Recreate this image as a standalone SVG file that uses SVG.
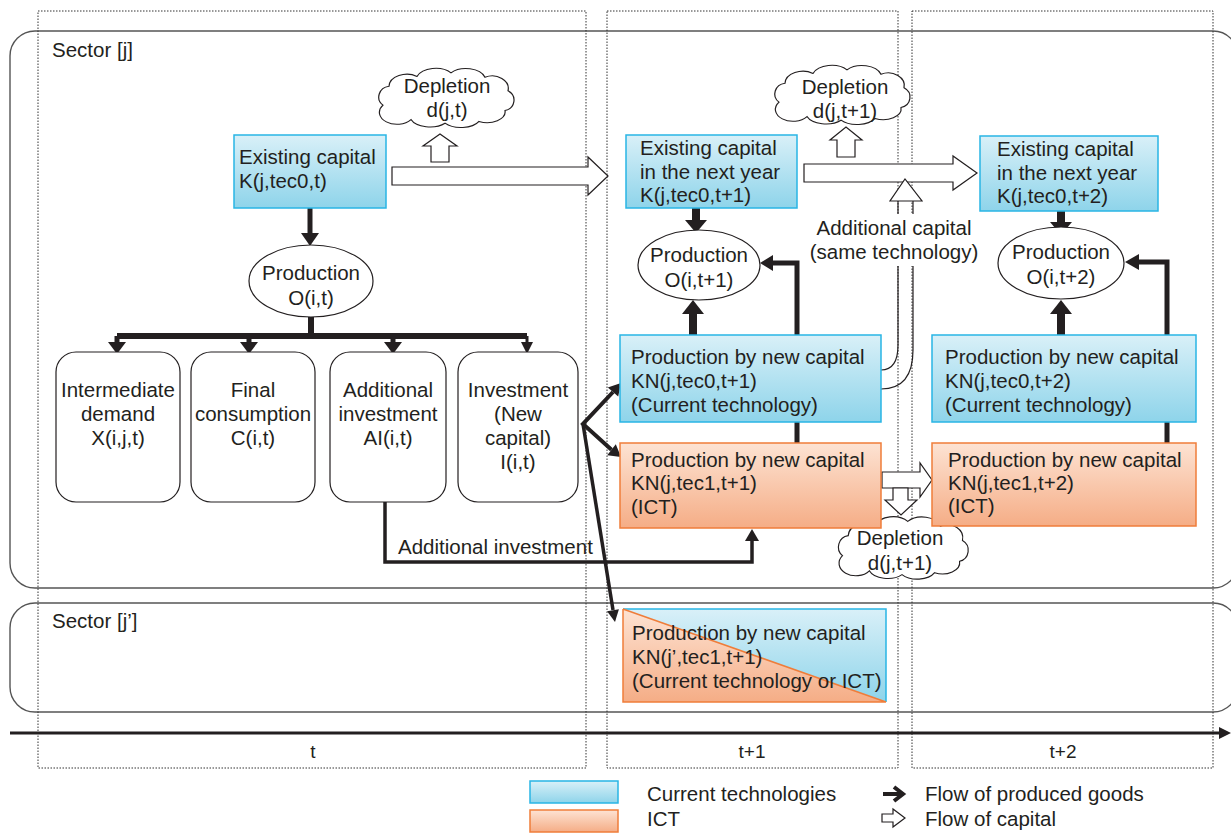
<svg xmlns="http://www.w3.org/2000/svg" width="1231" height="834" viewBox="0 0 1231 834">
<defs>
<linearGradient id="gBlue" x1="0" y1="0" x2="0" y2="1"><stop offset="0" stop-color="#d9f0f8"/><stop offset="1" stop-color="#8ed4ea"/></linearGradient>
<linearGradient id="gOrange" x1="0" y1="0" x2="0" y2="1"><stop offset="0" stop-color="#fde3d3"/><stop offset="1" stop-color="#f5ad86"/></linearGradient>
<path id="cloud" d="M -62,8 A 12,12 0 0 1 -56,-13 A 18,14 0 0 1 -28,-24 A 20,14 0 0 1 6,-28 A 20,14 0 0 1 40,-23 A 16,14 0 0 1 63,-8 A 12,12 0 0 1 60,14 A 18,12 0 0 1 34,26 A 20,12 0 0 1 0,28 A 20,12 0 0 1 -34,24 A 16,12 0 0 1 -62,8 Z"/>
</defs>
<style>
text{font-family:"Liberation Sans",Arial,sans-serif;font-size:20.5px;fill:#231f20}
.mid{text-anchor:middle}
.col{fill:none;stroke:#333;stroke-width:1;stroke-dasharray:1.5 1.5}
.sector{fill:none;stroke:#555;stroke-width:1.4}
.blue{fill:url(#gBlue);stroke:#29b5e5;stroke-width:1.5}
.orange{fill:url(#gOrange);stroke:#ef7d3a;stroke-width:1.5}
.node{fill:#fff;stroke:#231f20;stroke-width:1.2}
.cloud{fill:#fff;stroke:#231f20;stroke-width:1.2}
.flow{fill:none;stroke:#231f20;stroke-linejoin:miter}
.head{fill:#231f20}
.cap{fill:#fff;stroke:#231f20;stroke-width:1.2}
</style>
<rect width="1231" height="834" fill="#fff"/>

<g id="sectors">
<rect class="sector" x="10" y="31" width="1228" height="557" rx="25"/>
<rect class="sector" x="10" y="603" width="1228" height="109" rx="25"/>
<text x="52" y="57">Sector [j]</text>
<text x="52" y="628">Sector [j’]</text>
</g>

<g id="columns">
<rect class="col" x="38" y="11" width="548" height="757"/>
<rect class="col" x="607" y="11" width="291" height="757"/>
<rect class="col" x="912" y="11" width="301" height="757"/>
</g>

<g id="timeline">
<line x1="10" y1="733" x2="1222" y2="733" stroke="#231f20" stroke-width="3"/>
<polygon class="head" points="1219,727 1231,733 1219,739"/>
<text class="mid" x="313" y="758" style="font-size:19px">t</text>
<text class="mid" x="752" y="758" style="font-size:19px">t+1</text>
<text class="mid" x="1063" y="758" style="font-size:19px">t+2</text>
</g>

<g id="connectors">
<!-- capital flows -->
<polygon class="cap" points="392,167 588,167 588,157 608,176 588,195 588,185 392,185"/>
<polygon class="cap" points="431,162 431,146 423,146 440,134 457,146 449,146 449,162"/>
<polygon class="cap" points="804,164 953,164 953,156 977,173 953,190 953,182 804,182"/>
<polygon class="cap" points="837,157 837,140 830,140 846,127 862,140 855,140 855,157"/>
<path class="flow" stroke-width="1.2" d="M898,201 V345 Q898,370 881,370 M913,201 V350 Q913,389 881,389"/>
<polygon class="cap" points="898,201 890,201 905,179 922,201 913,201"/>
<polygon class="cap" points="882,472 920,472 920,463 932,480 920,497 920,488 882,488"/>
<polygon class="cap" points="893,488 908,488 908,500 917,500 901,515 885,500 893,500"/>
<!-- produced goods flows, t -->
<line class="flow" x1="310" y1="208" x2="310" y2="235" stroke-width="5"/>
<polygon class="head" points="301,233 319,233 310,246"/>
<path class="flow" stroke-width="6" d="M311,317 V336 M117,336 H527"/>
<line class="flow" x1="117" y1="336" x2="117" y2="344" stroke-width="5"/>
<polygon class="head" points="108,342 126,342 117,354"/>
<line class="flow" x1="249" y1="336" x2="249" y2="344" stroke-width="5"/>
<polygon class="head" points="240,342 258,342 249,354"/>
<line class="flow" x1="393" y1="336" x2="393" y2="344" stroke-width="5"/>
<polygon class="head" points="384,342 402,342 393,354"/>
<line class="flow" x1="527" y1="336" x2="527" y2="344" stroke-width="3"/>
<polygon class="head" points="521,342 533,342 527,354"/>
<!-- investment -->
<path class="flow" stroke-width="4" d="M613,392 L583,424 L611.5,449.7"/>
<polygon class="head" points="618.2,396.6 607.8,387.4 621,383"/>
<polygon class="head" points="607.2,455.3 615.8,444.2 621,457"/>
<line class="flow" x1="583" y1="424" x2="613" y2="610" stroke-width="3.5"/>
<polygon class="head" points="618.9,609.2 607.1,611.2 615,622"/>
<!-- additional investment -->
<path class="flow" stroke-width="3.5" d="M385,502 V562 H752 V540"/>
<polygon class="head" points="745,541 759,541 752,529"/>
<!-- t+1 -->
<line class="flow" x1="696" y1="208" x2="696" y2="222" stroke-width="8"/>
<polygon class="head" points="685,220 707,220 696,233"/>
<path class="flow" stroke-width="5" d="M797,443 V263 H772"/>
<polygon class="head" points="773,255 773,271 760,263"/>
<line class="flow" x1="693" y1="335" x2="693" y2="312" stroke-width="8"/>
<polygon class="head" points="682,314 704,314 693,300"/>
<!-- t+2 -->
<line class="flow" x1="1061" y1="211" x2="1061" y2="224" stroke-width="8"/>
<polygon class="head" points="1050,222 1072,222 1061,235"/>
<path class="flow" stroke-width="5" d="M1167,443 V262 H1138"/>
<polygon class="head" points="1139,254 1139,270 1125,262"/>
<line class="flow" x1="1061" y1="335" x2="1061" y2="312" stroke-width="8"/>
<polygon class="head" points="1050,314 1072,314 1061,300"/>
</g>

<g id="label-additional-investment">
<text x="398" y="554">Additional investment</text>
</g>

<g id="label-additional-capital">
<rect x="806" y="214" width="176" height="52" fill="#fff"/>
<text class="mid" x="894" y="235">Additional capital</text>
<text class="mid" x="894" y="259">(same technology)</text>
</g>

<g id="depletion-t">
<use href="#cloud" class="cloud" transform="translate(445,98) scale(1,0.9)"/>
<text class="mid" x="447" y="93">Depletion</text>
<text class="mid" x="447" y="117">d(j,t)</text>
</g>

<g id="depletion-t1">
<use href="#cloud" class="cloud" transform="translate(841,95) scale(1,0.9)"/>
<text class="mid" x="845" y="94">Depletion</text>
<text class="mid" x="845" y="118">d(j,t+1)</text>
</g>

<g id="depletion-t1-ict">
<use href="#cloud" class="cloud" transform="translate(902,548) scale(0.96,0.95)"/>
<text class="mid" x="900" y="545">Depletion</text>
<text class="mid" x="900" y="570">d(j,t+1)</text>
</g>

<g id="existing-capital-t">
<rect class="blue" x="234" y="135" width="152" height="73"/>
<text x="239" y="164">Existing capital</text>
<text x="239" y="188">K(j,tec0,t)</text>
</g>

<g id="production-t">
<ellipse class="node" cx="311" cy="281" rx="62" ry="36"/>
<text class="mid" x="311" y="280">Production</text>
<text class="mid" x="311" y="305">O(i,t)</text>
</g>

<g id="intermediate-demand">
<rect class="node" x="56" y="352" width="124" height="150" rx="20"/>
<text class="mid" x="118" y="397">Intermediate</text>
<text class="mid" x="118" y="421">demand</text>
<text class="mid" x="118" y="445">X(i,j,t)</text>
</g>

<g id="final-consumption">
<rect class="node" x="191" y="352" width="124" height="150" rx="20"/>
<text class="mid" x="253" y="397">Final</text>
<text class="mid" x="253" y="421">consumption</text>
<text class="mid" x="253" y="445">C(i,t)</text>
</g>

<g id="additional-investment">
<rect class="node" x="330" y="352" width="116" height="150" rx="20"/>
<text class="mid" x="388" y="397">Additional</text>
<text class="mid" x="388" y="421">investment</text>
<text class="mid" x="388" y="445">AI(i,t)</text>
</g>

<g id="investment">
<rect class="node" x="458" y="352" width="120" height="150" rx="20"/>
<text class="mid" x="518" y="397">Investment</text>
<text class="mid" x="518" y="421">(New</text>
<text class="mid" x="518" y="445">capital)</text>
<text class="mid" x="518" y="469">I(i,t)</text>
</g>

<g id="existing-capital-t1">
<rect class="blue" x="626" y="135" width="171" height="73"/>
<text x="640" y="155">Existing capital</text>
<text x="640" y="179">in the next year</text>
<text x="640" y="202">K(j,tec0,t+1)</text>
</g>

<g id="production-t1">
<ellipse class="node" cx="699" cy="265" rx="61" ry="35"/>
<text class="mid" x="699" y="262">Production</text>
<text class="mid" x="699" y="287">O(i,t+1)</text>
</g>

<g id="kn-tec0-t1">
<rect class="blue" x="620" y="335" width="261" height="87"/>
<text x="631" y="364">Production by new capital</text>
<text x="631" y="388">KN(j,tec0,t+1)</text>
<text x="631" y="412">(Current technology)</text>
</g>

<g id="kn-tec1-t1">
<rect class="orange" x="620" y="443" width="261" height="85"/>
<text x="631" y="467">Production by new capital</text>
<text x="631" y="490">KN(j,tec1,t+1)</text>
<text x="631" y="514">(ICT)</text>
</g>

<g id="existing-capital-t2">
<rect class="blue" x="980" y="136" width="178" height="75"/>
<text x="997" y="156">Existing capital</text>
<text x="997" y="180">in the next year</text>
<text x="997" y="203">K(j,tec0,t+2)</text>
</g>

<g id="production-t2">
<ellipse class="node" cx="1061" cy="263" rx="63" ry="36"/>
<text class="mid" x="1061" y="259">Production</text>
<text class="mid" x="1061" y="284">O(i,t+2)</text>
</g>

<g id="kn-tec0-t2">
<rect class="blue" x="932" y="335" width="264" height="87"/>
<text x="945" y="364">Production by new capital</text>
<text x="945" y="388">KN(j,tec0,t+2)</text>
<text x="945" y="412">(Current technology)</text>
</g>

<g id="kn-tec1-t2">
<rect class="orange" x="932" y="443" width="264" height="83"/>
<text x="948" y="467">Production by new capital</text>
<text x="948" y="490">KN(j,tec1,t+2)</text>
<text x="948" y="513">(ICT)</text>
</g>

<g id="kn-jprime-t1">
<polygon points="623,609 886,609 886,702" fill="url(#gBlue)"/>
<polygon points="623,609 623,702 886,702" fill="url(#gOrange)"/>
<path d="M623,609 H886 V702" fill="none" stroke="#29b5e5" stroke-width="1.5"/>
<path d="M623,609 V702 H886 M623,609 L886,702" fill="none" stroke="#ef7d3a" stroke-width="1.5"/>
<text x="632" y="640">Production by new capital</text>
<text x="632" y="664">KN(j’,tec1,t+1)</text>
<text x="632" y="688">(Current technology or ICT)</text>
</g>

<g id="legend">
<rect class="blue" x="530" y="781" width="88" height="22"/>
<rect class="orange" x="530" y="810" width="88" height="22"/>
<text x="647" y="801">Current technologies</text>
<text x="647" y="826">ICT</text>
<path d="M883,794 H901 M894,787 L903,794 L894,801" fill="none" stroke="#231f20" stroke-width="4" stroke-linejoin="miter"/>
<polygon class="cap" points="882,814 893,814 893,809 905,818 893,827 893,822 882,822"/>
<text x="925" y="801">Flow of produced goods</text>
<text x="925" y="826">Flow of capital</text>
</g>
</svg>
